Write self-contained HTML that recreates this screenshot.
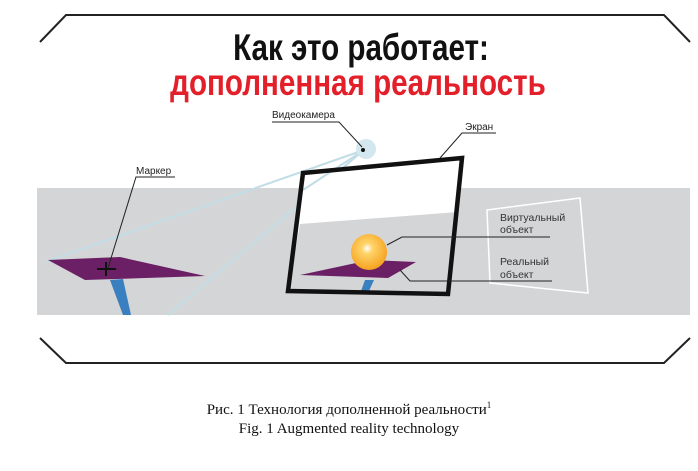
<!DOCTYPE html>
<html><head><meta charset="utf-8"><style>
html,body{margin:0;padding:0;background:#fff;width:698px;height:471px;overflow:hidden}
svg{position:absolute;left:0;top:0}
.cap{position:absolute;left:0;width:698px;text-align:center;font-family:"Liberation Serif",serif;font-size:15px;color:#111}
</style></head><body>
<svg width="698" height="471" viewBox="0 0 698 471">
<polyline points="40,42 66,15 664,15 690,42" fill="none" stroke="#222" stroke-width="2"/>
<polyline points="40,338 66,363 664,363 690,338" fill="none" stroke="#222" stroke-width="2"/>
<rect x="37" y="188" width="653" height="127" fill="#d4d5d7"/>
<text x="361" y="60" text-anchor="middle" font-family="Liberation Sans, DejaVu Sans, sans-serif" font-weight="bold" font-size="37" fill="#111" transform="translate(361,0) scale(0.8,1) translate(-361,0)">Как это работает:</text>
<text x="358" y="95" text-anchor="middle" font-family="Liberation Sans, DejaVu Sans, sans-serif" font-weight="bold" font-size="37" fill="#e3202a" transform="translate(358,0) scale(0.8,1) translate(-358,0)">дополненная реальность</text>
<line x1="364" y1="150" x2="45" y2="262" stroke="#c2dde6" stroke-width="2"/>
<line x1="364" y1="150" x2="168" y2="315" stroke="#c2dde6" stroke-width="2"/>
<polygon points="48,260 120,257 205,276 85,280" fill="#6b1f64"/>
<polygon points="110,280 123,279 131,315 123,315" fill="#3a7fbf"/>
<line x1="106" y1="262" x2="106" y2="276" stroke="#111" stroke-width="2"/>
<line x1="97" y1="269" x2="116" y2="269" stroke="#111" stroke-width="2"/>
<polyline points="175,177 136,177 108,268" fill="none" stroke="#222" stroke-width="1"/>
<text x="136" y="174" font-family="Liberation Sans, sans-serif" font-size="10" fill="#222">Маркер</text>
<polygon points="303,173 462,158 448,294 288,291" fill="#fff"/>
<polygon points="300,224 458,212 448,294 288,291" fill="#d4d5d7"/>
<polygon points="300,275 370,260 416,262 388,278" fill="#6b1f64"/>
<polygon points="365,280 374,280 369,291 361,291" fill="#3a7fbf"/>
<defs><radialGradient id="g" cx="0.45" cy="0.4" r="0.6"><stop offset="0" stop-color="#fff"/><stop offset="0.25" stop-color="#ffd46a"/><stop offset="1" stop-color="#f5a21e"/></radialGradient></defs>
<circle cx="369" cy="252" r="18" fill="url(#g)"/>
<line x1="364" y1="150" x2="303" y2="190" stroke="#c2dde6" stroke-width="2"/>
<polygon points="303,173 462,158 448,294 288,291" fill="none" stroke="#111" stroke-width="4.5"/>
<circle cx="366" cy="149" r="10" fill="#d3e7ee"/>
<circle cx="363" cy="150" r="2" fill="#111"/>
<polyline points="272,122 339,122 362,147" fill="none" stroke="#222" stroke-width="1"/>
<text x="272" y="118" font-family="Liberation Sans, sans-serif" font-size="10" fill="#222">Видеокамера</text>
<polyline points="496,133 462,133 440,158" fill="none" stroke="#222" stroke-width="1"/>
<text x="465" y="130" font-family="Liberation Sans, sans-serif" font-size="10" fill="#222">Экран</text>
<polygon points="487,210 580,198 588,293 490,283" fill="none" stroke="#fff" stroke-width="1.5"/>
<text font-family="Liberation Sans, sans-serif" font-size="10.5" fill="#333"><tspan x="500" y="221">Виртуальный</tspan><tspan x="500" y="233">объект</tspan><tspan x="500" y="265">Реальный</tspan><tspan x="500" y="278">объект</tspan></text>
<polyline points="387,245 402,237 550,237" fill="none" stroke="#222" stroke-width="1"/>
<polyline points="400,270 410,281 552,281" fill="none" stroke="#222" stroke-width="1"/>
</svg>
<div class="cap" style="top:400px">Рис. 1 Технология дополненной реальности<sup style="font-size:9px">1</sup></div>
<div class="cap" style="top:421px">Fig. 1 Augmented reality technology</div>
</body></html>
